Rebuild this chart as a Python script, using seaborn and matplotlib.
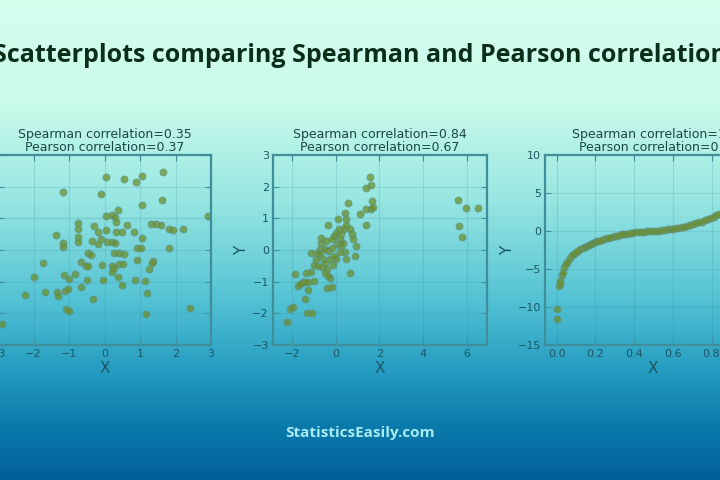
import numpy as np
import pandas as pd
import matplotlib
matplotlib.use("Agg")
import matplotlib.pyplot as plt
import seaborn as sns
from matplotlib.colors import LinearSegmentedColormap

sns.set_theme(style="white")
plt.rcParams['font.family'] = ['DejaVu Sans']

# ---------------- data ----------------
x1 = [0.04, 0.55, 0.88, 1.05, 1.64, -1.16, -0.10, 1.61, 1.07, 2.92, 0.04, 0.21, 0.37, 0.30,
      0.32, -0.76, -0.29, 0.63, 1.30, 1.45, 1.59, 1.83, 1.92, 2.21, -1.36, -0.74, -0.74, -0.19,
      0.04, 0.32, 0.50, 0.82, -1.16, -1.17, -0.74, -0.34, -0.17, -0.10, 0.07, 0.21, 0.30, 1.07,
      0.92, 1.02, 1.83, -0.46, -0.38, 0.26, 0.40, 0.54, -1.74, -0.65, -0.53, -0.46, -0.06, 0.21,
      0.26, 0.40, 0.51, 0.92, 1.37, 1.33, 1.26, 0.21, 0.37, -2.00, -1.14, -1.01, -0.84, -0.48,
      -0.03, 0.86, 1.14, 0.48, -0.67, -2.25, -1.68, -1.33, -1.31, -1.12, -1.03, 1.21, -0.31,
      -1.08, -1.01, 1.16, 2.42, -2.89]
y1 = [2.29, 2.23, 2.15, 2.34, 2.46, 1.82, 1.76, 1.58, 1.43, 1.06, 1.07, 1.10, 1.25, 1.05,
      0.88, 0.86, 0.76, 0.79, 0.82, 0.82, 0.80, 0.67, 0.63, 0.65, 0.46, 0.65, 0.42, 0.58,
      0.63, 0.57, 0.58, 0.56, 0.21, 0.11, 0.26, 0.28, 0.18, 0.36, 0.26, 0.26, 0.21, 0.37,
      0.07, 0.05, 0.07, -0.08, -0.16, -0.08, -0.08, -0.13, -0.40, -0.37, -0.49, -0.49, -0.47, -0.49,
      -0.58, -0.44, -0.44, -0.32, -0.34, -0.42, -0.61, -0.68, -0.84, -0.86, -0.79, -0.93, -0.76, -0.95,
      -0.95, -0.95, -0.97, -1.11, -1.18, -1.42, -1.32, -1.32, -1.45, -1.28, -1.24, -1.35, -1.55,
      -1.87, -1.92, -2.02, -1.82, -2.34]

x2 = [-2.22, -2.07, -1.92, -1.87, -1.72, -1.49, -1.37, -1.26, -1.41, -1.31, -1.06, -1.26, -1.34,
      -1.11, -1.00, -0.91, -0.73, -0.67, -0.85, -0.70, -0.58, -0.46, -0.61, -0.40, -0.35, -0.35,
      -0.27, -0.18, -0.12, -0.27, -0.40, -0.15, -0.33, -0.05, 0.03, 0.15, 0.26, 0.37, 0.49, 0.41,
      0.56, 0.18, 0.06, 0.26, 0.33, 0.18, 0.41, 0.03, 0.64, 0.76, 0.94, 0.87, 0.64, 0.46, 1.10,
      1.40, 1.37, 1.60, 1.70, 1.67, 1.37, 1.60, 1.58, -0.50, -0.65, -0.05, 0.11, 0.46, -0.15,
      -0.81, -0.50, -1.11, -0.43, 0.79, -0.97, -1.64,
      5.58, 5.96, 6.51, 5.63, 5.78]
y2 = [-2.27, -1.85, -1.79, -0.77, -1.14, -1.00, -1.00, -1.00, -1.56, -2.00, -2.00, -1.26, -0.72,
      -0.69, -0.48, -0.29, 0.04, 0.37, -0.08, -0.14, -0.29, -0.40, -0.53, -0.61, 0.78, -0.03,
      -0.27, 0.07, -0.48, -0.87, -1.19, -1.16, -0.82, 0.44, 0.55, 0.65, 0.49, 0.65, 0.78, 1.16,
      1.49, 0.34, 0.18, 0.13, 0.23, -0.06, -0.06, -0.27, 0.65, 0.49, 0.13, -0.19, -0.74, -0.29, 1.13,
      0.78, 1.31, 1.31, 1.37, 1.55, 1.97, 2.04, 2.32, 0.02, 0.21, -0.19, 0.97, 0.97, 0.34,
      -0.51, -0.72, -0.08, 0.28, 0.34, -0.98, -1.08,
      1.58, 1.34, 1.32, 0.76, 0.40]

x3 = [0.001, 0.002, 0.012, 0.016, 0.020, 0.026, 0.032, 0.040, 0.047, 0.055, 0.070, 0.080, 0.090,
      0.100, 0.110, 0.120, 0.135, 0.145, 0.155, 0.165, 0.180, 0.190, 0.200, 0.210, 0.220, 0.235,
      0.245, 0.260, 0.270, 0.285, 0.300, 0.310, 0.325, 0.340, 0.350, 0.365, 0.380, 0.390, 0.405,
      0.420, 0.435, 0.450, 0.465, 0.480, 0.500, 0.515, 0.530, 0.545, 0.560, 0.575, 0.590, 0.600,
      0.615, 0.630, 0.645, 0.660, 0.675, 0.690, 0.705, 0.720, 0.735, 0.750, 0.765, 0.780, 0.795,
      0.810, 0.825, 0.840, 0.860]
y3 = [-11.6, -10.3, -7.3, -7.0, -6.6, -5.8, -5.4, -4.8, -4.4, -4.1, -3.5, -3.2, -3.0,
      -2.8, -2.6, -2.4, -2.2, -2.1, -1.95, -1.8, -1.65, -1.55, -1.45, -1.35, -1.25, -1.12,
      -1.02, -0.95, -0.88, -0.78, -0.68, -0.62, -0.54, -0.45, -0.40, -0.33, -0.27, -0.23, -0.19,
      -0.15, -0.11, -0.08, -0.05, -0.03, 0.0, 0.03, 0.06, 0.10, 0.15, 0.20, 0.26, 0.31,
      0.38, 0.45, 0.50, 0.58, 0.66, 0.75, 0.88, 1.00, 1.12, 1.25, 1.40, 1.55, 1.70,
      1.85, 2.05, 2.25, 2.50]

titles = ["Spearman correlation=0.35\nPearson correlation=0.37",
          "Spearman correlation=0.84\nPearson correlation=0.67",
          "Spearman correlation=1.00\nPearson correlation=0.86"]
main_title = "Scatterplots comparing Spearman and Pearson correlation"
footer = "StatisticsEasily.com"

# ---------------- figure ----------------
fig = plt.figure(figsize=(7.2, 4.8), dpi=100)

# gradient background
bg = fig.add_axes([0, 0, 1, 1], zorder=0)
stops = [(0.0, (214/255, 255/255, 238/255)),
         (0.22, (200/255, 250/255, 234/255)),
         (0.42, (150/255, 230/255, 225/255)),
         (0.62, (85/255, 195/255, 212/255)),
         (0.78, (35/255, 155/255, 192/255)),
         (0.88, (12/255, 125/255, 172/255)),
         (1.0, (0/255, 95/255, 155/255))]
cmap = LinearSegmentedColormap.from_list("bg", stops)
grad = np.linspace(0, 1, 480).reshape(-1, 1)
bg.imshow(grad, cmap=cmap, aspect="auto", extent=[0, 1, 0, 1], origin="upper")
bg.set_axis_off()

H = 480.0
W = 720.0
bottom = 1 - 345 / H
height = 190 / H
positions = [[-2 / W, bottom, 213 / W, height],
             [273 / W, bottom, 214 / W, height],
             [545 / W, bottom, 215 / W, height]]
datasets = [(x1, y1), (x2, y2), (x3, y3)]
xlims = [(-3, 3), (-2.85, 6.9), (-0.06, 1.05)]
ylims = [(-3, 3), (-3, 3), (-15, 10)]
xticks = [[-3, -2, -1, 0, 1, 2, 3], [-2, 0, 2, 4, 6], [0.0, 0.2, 0.4, 0.6, 0.8, 1.0]]
yticks = [[-3, -2, -1, 0, 1, 2, 3], [-3, -2, -1, 0, 1, 2, 3], [-15, -10, -5, 0, 5, 10]]

tick_color = "#1d5563"
spine_color = "#3f8e9a"
text_color = "#1c4448"

for i, (pos, (xs, ys)) in enumerate(zip(positions, datasets)):
    ax = fig.add_axes(pos, zorder=1)
    ax.set_facecolor("none")
    df = pd.DataFrame({"X": xs, "Y": ys})
    sns.scatterplot(data=df, x="X", y="Y", ax=ax, color="#6b8e23", alpha=0.72,
                    s=26, edgecolor="#5f8f8f", linewidth=0.6)
    ax.set_xlim(*xlims[i])
    ax.set_ylim(*ylims[i])
    ax.set_xticks(xticks[i])
    ax.set_yticks(yticks[i])
    if i == 2:
        ax.set_xticklabels([f"{v:.1f}" for v in xticks[i]])
    ax.grid(True, color="#2f8090", alpha=0.18, linewidth=0.8)
    for sp in ax.spines.values():
        sp.set_color(spine_color)
        sp.set_linewidth(1.6)
    ax.tick_params(direction="in", length=4, width=0.8, color=spine_color,
                   labelsize=8, labelcolor=tick_color, top=True, right=True,
                   left=True, bottom=True, pad=3)
    ax.set_xlabel("X", fontsize=11, color=tick_color, labelpad=1)
    ax.set_ylabel("Y", fontsize=11, color=tick_color, labelpad=2)
    if i == 2:
        ax.set_title(titles[i], fontsize=9, color=text_color, pad=3,
                     linespacing=1.0, x=0.53)
    else:
        ax.set_title(titles[i], fontsize=9, color=text_color, pad=3, linespacing=1.0)

fig.text(0.5, 1 - 62 / H, main_title, ha="center", va="baseline",
         fontsize=18, fontweight="bold", family="Open Sans", color="#0b2e1a")
fig.text(0.5, 1 - 437 / H, footer, ha="center", va="baseline",
         fontsize=11, fontweight="bold", family="Open Sans", color="#a6ecf2")

fig.savefig("out.png", dpi=100)
